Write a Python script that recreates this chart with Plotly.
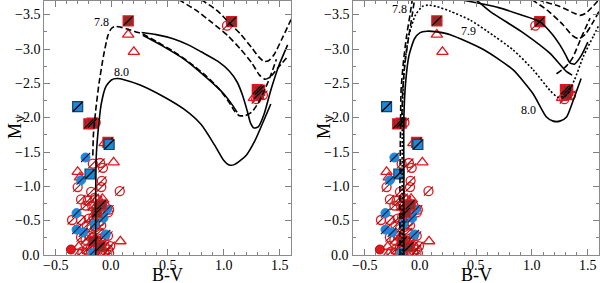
import plotly.graph_objects as go

# ---------------- star data (B-V, M_V) ----------------
circ_bv = [1.03, 1.29, 1.35, -0.14, -0.165, -0.10, -0.075, -0.30, -0.085, -0.09, 0.075, -0.18, -0.27, -0.21,
           -0.15, -0.12, -0.06, -0.02, -0.23, -0.17, -0.35, -0.27, -0.20, -0.16, -0.13, -0.10, -0.03, -0.22,
           -0.18, -0.14, -0.09, -0.11, -0.03, -0.27, -0.23, -0.20, -0.17, -0.13, -0.09, -0.06, -0.26, -0.22,
           -0.18, -0.15, -0.12, -0.09, -0.06, -0.03, -0.01, -0.02, -0.06, -0.11, -0.08]
circ_mv = [-3.34, -2.27, -2.33, -1.93, -1.33, -1.34, -1.27, -0.99, -1.08, -0.99, -0.93, -0.92, -0.81, -0.79,
           -0.83, -0.80, -0.72, -0.66, -0.72, -0.71, -0.51, -0.51, -0.53, -0.55, -0.58, -0.49, -0.62, -0.43,
           -0.38, -0.41, -0.43, -0.33, -0.28, -0.26, -0.22, -0.28, -0.25, -0.20, -0.24, -0.27, -0.05, -0.08,
           -0.12, -0.06, -0.10, -0.05, -0.13, -0.08, -0.13, -0.03, -0.02, -0.72, -0.65]

tri_bv = [0.15, 0.20, 1.27, -0.06, 0.02, -0.30, -0.28, -0.10, -0.08, 0.08, -0.29, -0.28, -0.12]
tri_mv = [-3.21, -2.96, -2.29, -1.63, -1.35, -1.21, -1.13, -0.76, -0.82, -0.20, -0.12, -0.02, -0.02]

sq_bv = [0.15, 1.07, 1.30, 1.32, 1.31, -0.20, -0.17, -0.03, -0.13, -0.09, -0.16, -0.10]
sq_mv = [-3.41, -3.40, -2.41, -2.40, -2.34, -1.91, -1.92, -1.64, -0.62, -0.73, -0.20, -0.12]

bsq_bv = [-0.30, -0.02, -0.19]
bsq_mv = [-2.16, -1.61, -1.18]

bcirc_bv = [-0.23, -0.27, -0.31, -0.04, -0.07, -0.31, -0.05, -0.25, -0.17, -0.15]
bcirc_mv = [-1.42, -1.09, -0.61, -0.66, -0.54, -0.37, -0.30, -0.33, -0.03, -0.45]

rfill_bv = [-0.36]
rfill_mv = [-0.08]

# ---------------- isochrones, left panel ----------------
l78_bv = [-0.165, -0.16, -0.14, -0.11, -0.07, -0.03, 0.0, 0.03, 0.08, 0.15, 0.22, 0.28, 0.40, 0.55, 0.70,
          0.85, 0.97, 1.05, 1.10, 1.14, 1.19, 1.25, 1.31, 1.37, 1.42, 1.47]
l78_mv = [-1.45, -1.75, -2.1, -2.5, -2.9, -3.2, -3.3, -3.33, -3.32, -3.29, -3.25, -3.22, -3.11, -2.97, -2.80,
          -2.60, -2.40, -2.22, -2.09, -2.03, -2.03, -2.08, -2.22, -2.42, -2.62, -2.85]

lsup_bv = [0.27, 0.40, 0.55, 0.70, 0.80, 0.95, 1.05, 1.12, 1.17, 1.21, 1.24, 1.27, 1.31, 1.36, 1.42, 1.49, 1.57]
lsup_mv = [-3.24, -3.21, -3.15, -3.05, -2.96, -2.82, -2.68, -2.52, -2.32, -2.10, -1.92, -1.85, -1.87, -2.05,
           -2.40, -2.75, -3.06]

lpair_bv = [0.28, 0.45, 0.65, 0.85, 1.00, 1.08, 1.12]
lpair_mv = [-3.20, -3.05, -2.85, -2.58, -2.35, -2.18, -2.08]

l80_bv = [-0.14, -0.14, -0.135, -0.12, -0.09, -0.05, 0.0, 0.05, 0.12, 0.25, 0.45, 0.65, 0.80, 0.92, 1.0,
          1.05, 1.10, 1.20, 1.28, 1.35, 1.42]
l80_mv = [0.0, -0.7, -1.42, -1.77, -2.2, -2.45, -2.55, -2.57, -2.55, -2.48, -2.32, -2.12, -1.90, -1.60, -1.38,
          -1.31, -1.32, -1.45, -1.67, -1.93, -2.2]

lu1_bv = [0.80, 0.95, 1.05, 1.15, 1.25, 1.31, 1.36, 1.40, 1.45, 1.52, 1.60]
lu1_mv = [-3.72, -3.55, -3.38, -3.22, -3.02, -2.89, -2.82, -2.83, -2.92, -3.15, -3.43]

lu2_bv = [0.60, 0.75, 0.90, 1.04, 1.15, 1.25, 1.32, 1.37, 1.42, 1.48, 1.56]
lu2_mv = [-3.72, -3.57, -3.38, -3.19, -3.0, -2.8, -2.62, -2.56, -2.60, -2.72, -2.87]

# ---------------- isochrones, right panel ----------------
r78a_bv = [-0.18, -0.18, -0.175, -0.17, -0.15, -0.12, -0.09, -0.07]
r78a_mv = [0.0, -1.0, -1.9, -2.4, -2.8, -3.2, -3.5, -3.72]
r78b_bv = [-0.165, -0.155, -0.135, -0.10, -0.07, -0.05]
r78b_mv = [-1.9, -2.4, -2.8, -3.2, -3.5, -3.72]

r79_bv = [-0.16, -0.16, -0.155, -0.14, -0.10, -0.04, 0.02, 0.07, 0.15, 0.27, 0.45, 0.60, 0.83, 1.01, 1.16,
          1.23, 1.31, 1.38, 1.46, 1.55, 1.60]
r79_mv = [0.0, -1.5, -2.3, -2.75, -3.2, -3.5, -3.62, -3.64, -3.62, -3.55, -3.42, -3.26, -2.99, -2.70, -2.40,
          -2.30, -2.33, -2.55, -2.89, -3.19, -3.35]

r80_bv = [-0.145, -0.145, -0.145, -0.13, -0.10, -0.05, 0.0, 0.06, 0.15, 0.27, 0.57, 0.83, 1.01, 1.13, 1.19,
          1.25, 1.31, 1.38, 1.44]
r80_mv = [0.0, -1.0, -2.0, -2.5, -2.9, -3.15, -3.24, -3.26, -3.25, -3.21, -2.99, -2.70, -2.35, -2.01, -1.95,
          -1.95, -2.01, -2.30, -2.57]

rs1_bv = [0.36, 0.55, 0.71, 0.90, 1.07, 1.18, 1.25, 1.30, 1.34, 1.38, 1.44, 1.50]
rs1_mv = [-3.72, -3.66, -3.60, -3.50, -3.40, -3.22, -3.06, -2.92, -2.80, -2.78, -2.90, -3.10]

rs2_bv = [0.50, 0.625, 0.92, 1.16, 1.31, 1.36]
rs2_mv = [-3.72, -3.55, -3.24, -2.94, -2.67, -2.62]

rd1_bv = [1.05, 1.25, 1.38, 1.43, 1.48, 1.55, 1.60]
rd1_mv = [-3.72, -3.62, -3.52, -3.49, -3.52, -3.63, -3.72]

rd2_bv = [1.00, 1.15, 1.28, 1.36, 1.42, 1.48, 1.55, 1.60]
rd2_mv = [-3.72, -3.55, -3.35, -3.20, -3.15, -3.22, -3.40, -3.55]

rd3_bv = [1.22, 1.30, 1.36, 1.45, 1.52]
rd3_mv = [-2.64, -2.74, -2.86, -3.2, -3.45]

# labels and ticks
lab_left = [("7.8", -0.09, -3.39), ("8.0", 0.09, -2.67)]
lab_right = [("7.8", -0.185, -3.58), ("7.9", 0.43, -3.27), ("8.0", 0.97, -2.11)]
x_ticks = [-0.5, 0.0, 0.5, 1.0, 1.5]
x_ticklabels = ["\u22120.5", "0.0", "0.5", "1.0", "1.5"]
y_ticks = [0.0, -0.5, -1.0, -1.5, -2.0, -2.5, -3.0, -3.5]
y_ticklabels = ["0.0", "\u22120.5", "\u22121.0", "\u22121.5", "\u22122.0", "\u22122.5", "\u22123.0", "\u22123.5"]

RED = "#e3161e"
SLASH_RED = "#a01010"
BLUE = "#1f87d6"
SQFILL = "#8e2a2a"
FONT = "Liberation Serif"

fig = go.Figure()


def mk(symbol, size, color, lcolor, lw):
    return dict(symbol=symbol, size=size, color=color, line=dict(color=lcolor, width=lw))


def add_stars(xa, ya):
    common = dict(xaxis=xa, yaxis=ya, mode="markers", showlegend=False, hoverinfo="skip")
    fig.add_trace(go.Scatter(x=circ_bv, y=circ_mv, marker=mk("circle-open", 9, RED, RED, 1.3), **common))
    fig.add_trace(go.Scatter(x=circ_bv, y=circ_mv, marker=mk("line-ne", 9, SLASH_RED, SLASH_RED, 1.1), **common))
    fig.add_trace(go.Scatter(x=tri_bv, y=tri_mv, marker=mk("triangle-up-open", 10, RED, RED, 1.3), **common))
    fig.add_trace(go.Scatter(x=bcirc_bv, y=bcirc_mv, marker=mk("circle", 9, BLUE, BLUE, 1), **common))
    fig.add_trace(go.Scatter(x=bcirc_bv, y=bcirc_mv, marker=mk("line-ne", 9, "#20204a", "#20204a", 1.2), **common))
    fig.add_trace(go.Scatter(x=rfill_bv, y=rfill_mv, marker=mk("circle", 9, RED, SLASH_RED, 1), **common))
    fig.add_trace(go.Scatter(x=sq_bv, y=sq_mv, marker=mk("square", 10, SQFILL, RED, 1.3), **common))
    fig.add_trace(go.Scatter(x=sq_bv, y=sq_mv, marker=mk("line-ne", 9, "black", "black", 1.2), **common))
    fig.add_trace(go.Scatter(x=bsq_bv, y=bsq_mv, marker=mk("square", 10, BLUE, "#17406a", 1.2), **common))
    fig.add_trace(go.Scatter(x=bsq_bv, y=bsq_mv, marker=mk("line-ne", 9, "black", "black", 1.2), **common))


def add_line(x, y, xa, ya, dash):
    fig.add_trace(go.Scatter(x=x, y=y, xaxis=xa, yaxis=ya, mode="lines", showlegend=False,
                             hoverinfo="skip", line=dict(color="black", width=1.6, dash=dash,
                                                         shape="spline", smoothing=0.6)))


add_stars("x", "y")
add_stars("x2", "y2")

LONGDASH = "6px,3px"
add_line(l78_bv, l78_mv, "x", "y", LONGDASH)
add_line(lsup_bv, lsup_mv, "x", "y", "solid")
add_line(lpair_bv, lpair_mv, "x", "y", "solid")
add_line(l80_bv, l80_mv, "x", "y", "solid")
add_line(lu1_bv, lu1_mv, "x", "y", LONGDASH)
add_line(lu2_bv, lu2_mv, "x", "y", LONGDASH)

add_line(r78a_bv, r78a_mv, "x2", "y2", LONGDASH)
add_line(r78b_bv, r78b_mv, "x2", "y2", LONGDASH)
add_line(r79_bv, r79_mv, "x2", "y2", "2px,2px")
add_line(r80_bv, r80_mv, "x2", "y2", "solid")
add_line(rs1_bv, rs1_mv, "x2", "y2", "solid")
add_line(rs2_bv, rs2_mv, "x2", "y2", "solid")
add_line(rd1_bv, rd1_mv, "x2", "y2", LONGDASH)
add_line(rd2_bv, rd2_mv, "x2", "y2", LONGDASH)
add_line(rd3_bv, rd3_mv, "x2", "y2", LONGDASH)

W, H = 600, 283
PLOT_BOTTOM = 255
y_dom = [(H - PLOT_BOTTOM) / H, (H - 1) / H]
LEFT_DOM = [44, 291]
RIGHT_DOM = [353, 599]

xa_common = dict(range=[-0.6, 1.6], tickvals=x_ticks, showticklabels=False,
                 ticks="inside", ticklen=6, tickcolor="#808080", showline=True, linecolor="#8a8a8a",
                 linewidth=1, mirror="allticks", showgrid=False, zeroline=False, automargin=False,
                 minor=dict(ticks="inside", ticklen=3, dtick=0.1, tick0=0, tickcolor="#808080"))
ya_common = dict(range=[0.0, -3.7], tickvals=y_ticks, showticklabels=False,
                 ticks="inside", ticklen=6, tickcolor="#808080", showline=True,
                 linecolor="#8a8a8a", linewidth=1, mirror="allticks", showgrid=False, zeroline=False,
                 automargin=False,
                 minor=dict(ticks="inside", ticklen=3, dtick=0.25, tick0=0, tickcolor="#808080"))

fig.update_layout(
    width=W, height=H, margin=dict(l=0, r=0, t=0, b=0, autoexpand=False),
    paper_bgcolor="white", plot_bgcolor="white",
    xaxis=dict(domain=[LEFT_DOM[0] / W, LEFT_DOM[1] / W], anchor="y", **xa_common),
    yaxis=dict(domain=y_dom, anchor="x", **ya_common),
    xaxis2=dict(domain=[RIGHT_DOM[0] / W, RIGHT_DOM[1] / W], anchor="y2", **xa_common),
    yaxis2=dict(domain=y_dom, anchor="x2", **ya_common),
)

tickfont = dict(family=FONT, size=14, color="black")
ann = []
for t, x, y in lab_left:
    ann.append(dict(text=t, x=x, y=y, xref="x", yref="y", showarrow=False,
                    font=dict(family=FONT, size=12, color="black")))
for t, x, y in lab_right:
    ann.append(dict(text=t, x=x, y=y, xref="x2", yref="y2", showarrow=False,
                    font=dict(family=FONT, size=12, color="black")))
for xr, yr, dom in [("x", "y", LEFT_DOM), ("x2", "y2", RIGHT_DOM)]:
    for v, t in zip(x_ticks, x_ticklabels):
        ann.append(dict(text=t, x=v, y=1 - (PLOT_BOTTOM + 1) / H, xref=xr, yref="paper", showarrow=False,
                        xanchor="center", yanchor="top", font=tickfont))
    for v, t in zip(y_ticks, y_ticklabels):
        ann.append(dict(text=t, x=(dom[0] - 2) / W, y=v, xref="paper", yref=yr, showarrow=False,
                        xanchor="right", yanchor="middle", font=tickfont))
for cx, cy in [(167.5, 274.5), (476, 274.5)]:
    ann.append(dict(text="B-V", x=cx / W, y=1 - cy / H, xref="paper", yref="paper", showarrow=False,
                    xanchor="center", yanchor="middle", font=dict(family=FONT, size=18, color="black")))
for cx, cy in [(16, 127), (325, 127)]:
    ann.append(dict(text="M<sub>V</sub>", x=cx / W, y=1 - cy / H, xref="paper", yref="paper",
                    xanchor="center", yanchor="middle", showarrow=False, textangle=-90,
                    font=dict(family=FONT, size=18, color="black")))
fig.update_layout(annotations=ann)

fig.write_html("out.html", config={"displayModeBar": False},
               post_script="document.body.style.margin='0px';document.body.style.overflow='hidden';")
